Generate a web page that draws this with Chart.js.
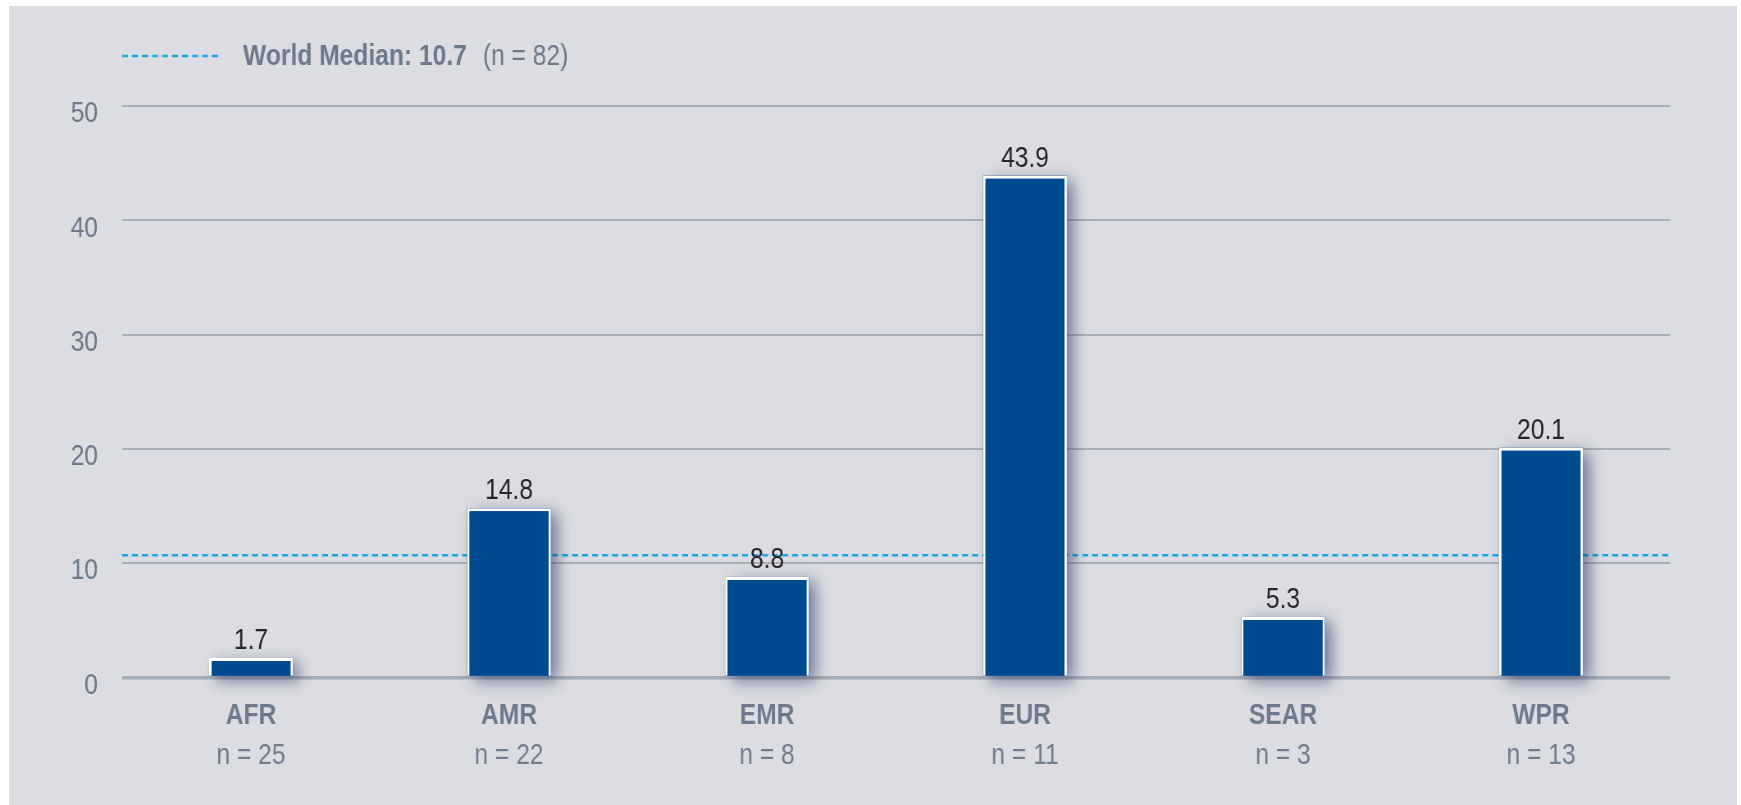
<!DOCTYPE html>
<html>
<head>
<meta charset="utf-8">
<script src="https://cdn.jsdelivr.net/npm/chart.js"></script>
<style>
  html, body { margin: 0; padding: 0; background: #ffffff; }
  #panel { position: absolute; left: 9px; top: 6px; width: 1728px; height: 799px; background: #dcdde2; overflow: hidden; }
  #grafica { display: block; }
</style>
</head>
<body>
<div id="panel"><canvas id="grafica"></canvas></div>
<script>
// Datos del chart
var regiones = ['AFR', 'AMR', 'EMR', 'EUR', 'SEAR', 'WPR'];
var valores = [1.7, 14.8, 8.8, 43.9, 5.3, 20.1];
var paises = ['n = 25', 'n = 22', 'n = 8', 'n = 11', 'n = 3', 'n = 13'];
var medianaMundial = 10.7;
var paisesMundo = 82;
var ticksY = [0, 10, 20, 30, 40, 50];

// Factor de compresion horizontal (la letra del original es condensada)
var ESCALA = 0.82;
var fuente = "'Liberation Sans', Arial, sans-serif";
var grisTexto = '#6e798b';
var azulBarra = '#004a8f';
var azulMediana = '#1aa8e4';

// El canvas es mas ancho que su tamaño en pantalla, asi todo queda comprimido en horizontal
var canvas = document.getElementById('grafica');
canvas.width = Math.round(1728 / ESCALA);
canvas.height = 799;
canvas.style.width = '1728px';
canvas.style.height = '799px';

// Pasa pixeles de pantalla a unidades horizontales del canvas
function hx(px) { return px / ESCALA; }

var extras = {
  id: 'extras',
  beforeDatasetsDraw: function(chart) {
    var ctx = chart.ctx;
    var area = chart.chartArea;
    var y = chart.scales.y.getPixelForValue(medianaMundial);

    // Linea punteada de la mediana mundial (queda detras de las barras)
    ctx.save();
    ctx.strokeStyle = azulMediana;
    ctx.lineWidth = 2.5;
    ctx.setLineDash([hx(6), hx(4)]);
    ctx.beginPath();
    ctx.moveTo(area.left, y);
    ctx.lineTo(area.right, y);
    ctx.stroke();
    ctx.restore();

    // Sombra de las barras
    ctx.save();
    ctx.shadowColor = 'rgba(35, 45, 90, 0.55)';
    ctx.shadowBlur = 16;
    ctx.shadowOffsetX = hx(7);
    ctx.shadowOffsetY = 5;
    ctx.fillStyle = azulBarra;
    chart.getDatasetMeta(0).data.forEach(function(barra) {
      var p = barra.getProps(['x', 'y', 'base', 'width'], true);
      ctx.fillRect(p.x - p.width / 2, p.y, p.width, p.base - p.y);
    });
    ctx.restore();
  },
  afterDatasetsDraw: function(chart) {
    // Etiquetas con el valor arriba de cada barra
    var ctx = chart.ctx;
    ctx.save();
    ctx.font = 'normal 30px ' + fuente;
    ctx.fillStyle = '#26262a';
    ctx.textAlign = 'center';
    ctx.textBaseline = 'alphabetic';
    chart.getDatasetMeta(0).data.forEach(function(barra, i) {
      ctx.fillText(valores[i].toFixed(1), barra.x, barra.y - 9);
    });
    ctx.restore();
  },
  afterDraw: function(chart) {
    // Leyenda de la mediana
    var ctx = chart.ctx;
    var area = chart.chartArea;
    var yLinea = area.top - 50;
    ctx.save();
    ctx.strokeStyle = azulMediana;
    ctx.lineWidth = 2.5;
    ctx.setLineDash([hx(6), hx(4)]);
    ctx.beginPath();
    ctx.moveTo(area.left, yLinea);
    ctx.lineTo(area.left + hx(100), yLinea);
    ctx.stroke();
    ctx.setLineDash([]);

    ctx.textBaseline = 'alphabetic';
    ctx.textAlign = 'left';
    ctx.fillStyle = grisTexto;
    ctx.font = 'bold 30px ' + fuente;
    var texto = 'World Median: ' + medianaMundial;
    var x = area.left + hx(121);
    ctx.fillText(texto, x, area.top - 41);
    var ancho = ctx.measureText(texto).width;
    ctx.font = 'normal 30px ' + fuente;
    ctx.fillText('(n = ' + paisesMundo + ')', x + ancho + hx(16), area.top - 41);
    ctx.restore();
  }
};

var ctx = canvas.getContext('2d');

var config = {
  type: 'bar',
  data: {
    labels: regiones,
    datasets: [{
      label: 'Regiones',
      data: valores,
      backgroundColor: azulBarra,
      borderColor: '#ffffff',
      borderWidth: 3,
      borderSkipped: 'start',
      categoryPercentage: 1,
      barPercentage: 0.325,
      xAxisID: 'x',
      yAxisID: 'y'
    }]
  },
  options: {
    responsive: false,
    animation: false,
    devicePixelRatio: 1,
    layout: { padding: { top: 100, right: hx(67), left: 0, bottom: 27.5 } },
    plugins: {
      legend: { display: false },
      tooltip: { enabled: false },
      title: { display: false }
    },
    scales: {
      x: {
        type: 'category',
        position: 'bottom',
        offset: true,
        grid: { display: false, drawTicks: false },
        border: { display: false },
        ticks: {
          padding: 23.5,
          color: grisTexto,
          font: { family: fuente, size: 30, weight: 'bold', lineHeight: 1 }
        },
        afterFit: function(scale) { scale.height = 56; }
      },
      x2: {
        type: 'category',
        position: 'bottom',
        labels: paises,
        offset: true,
        grid: { display: false, drawTicks: false },
        border: { display: false },
        ticks: {
          padding: 7,
          color: '#727d8f',
          font: { family: fuente, size: 30, weight: 'normal', lineHeight: 1 }
        },
        afterFit: function(scale) { scale.height = 44; }
      },
      y: {
        min: ticksY[0],
        max: ticksY[ticksY.length - 1],
        border: { display: false },
        grid: {
          drawTicks: false,
          color: function(c) { return c.tick && c.tick.value === 0 ? '#a5adb8' : '#a9afb8'; },
          lineWidth: function(c) { return c.tick && c.tick.value === 0 ? 3.5 : 2; }
        },
        ticks: {
          stepSize: ticksY[1] - ticksY[0],
          padding: hx(24),
          labelOffset: 8,
          color: grisTexto,
          font: { family: fuente, size: 30, weight: 'normal' }
        },
        afterFit: function(scale) { scale.width = hx(113); }
      }
    }
  },
  plugins: [extras]
};

var miChart = new Chart(ctx, config);
</script>
</body>
</html>
